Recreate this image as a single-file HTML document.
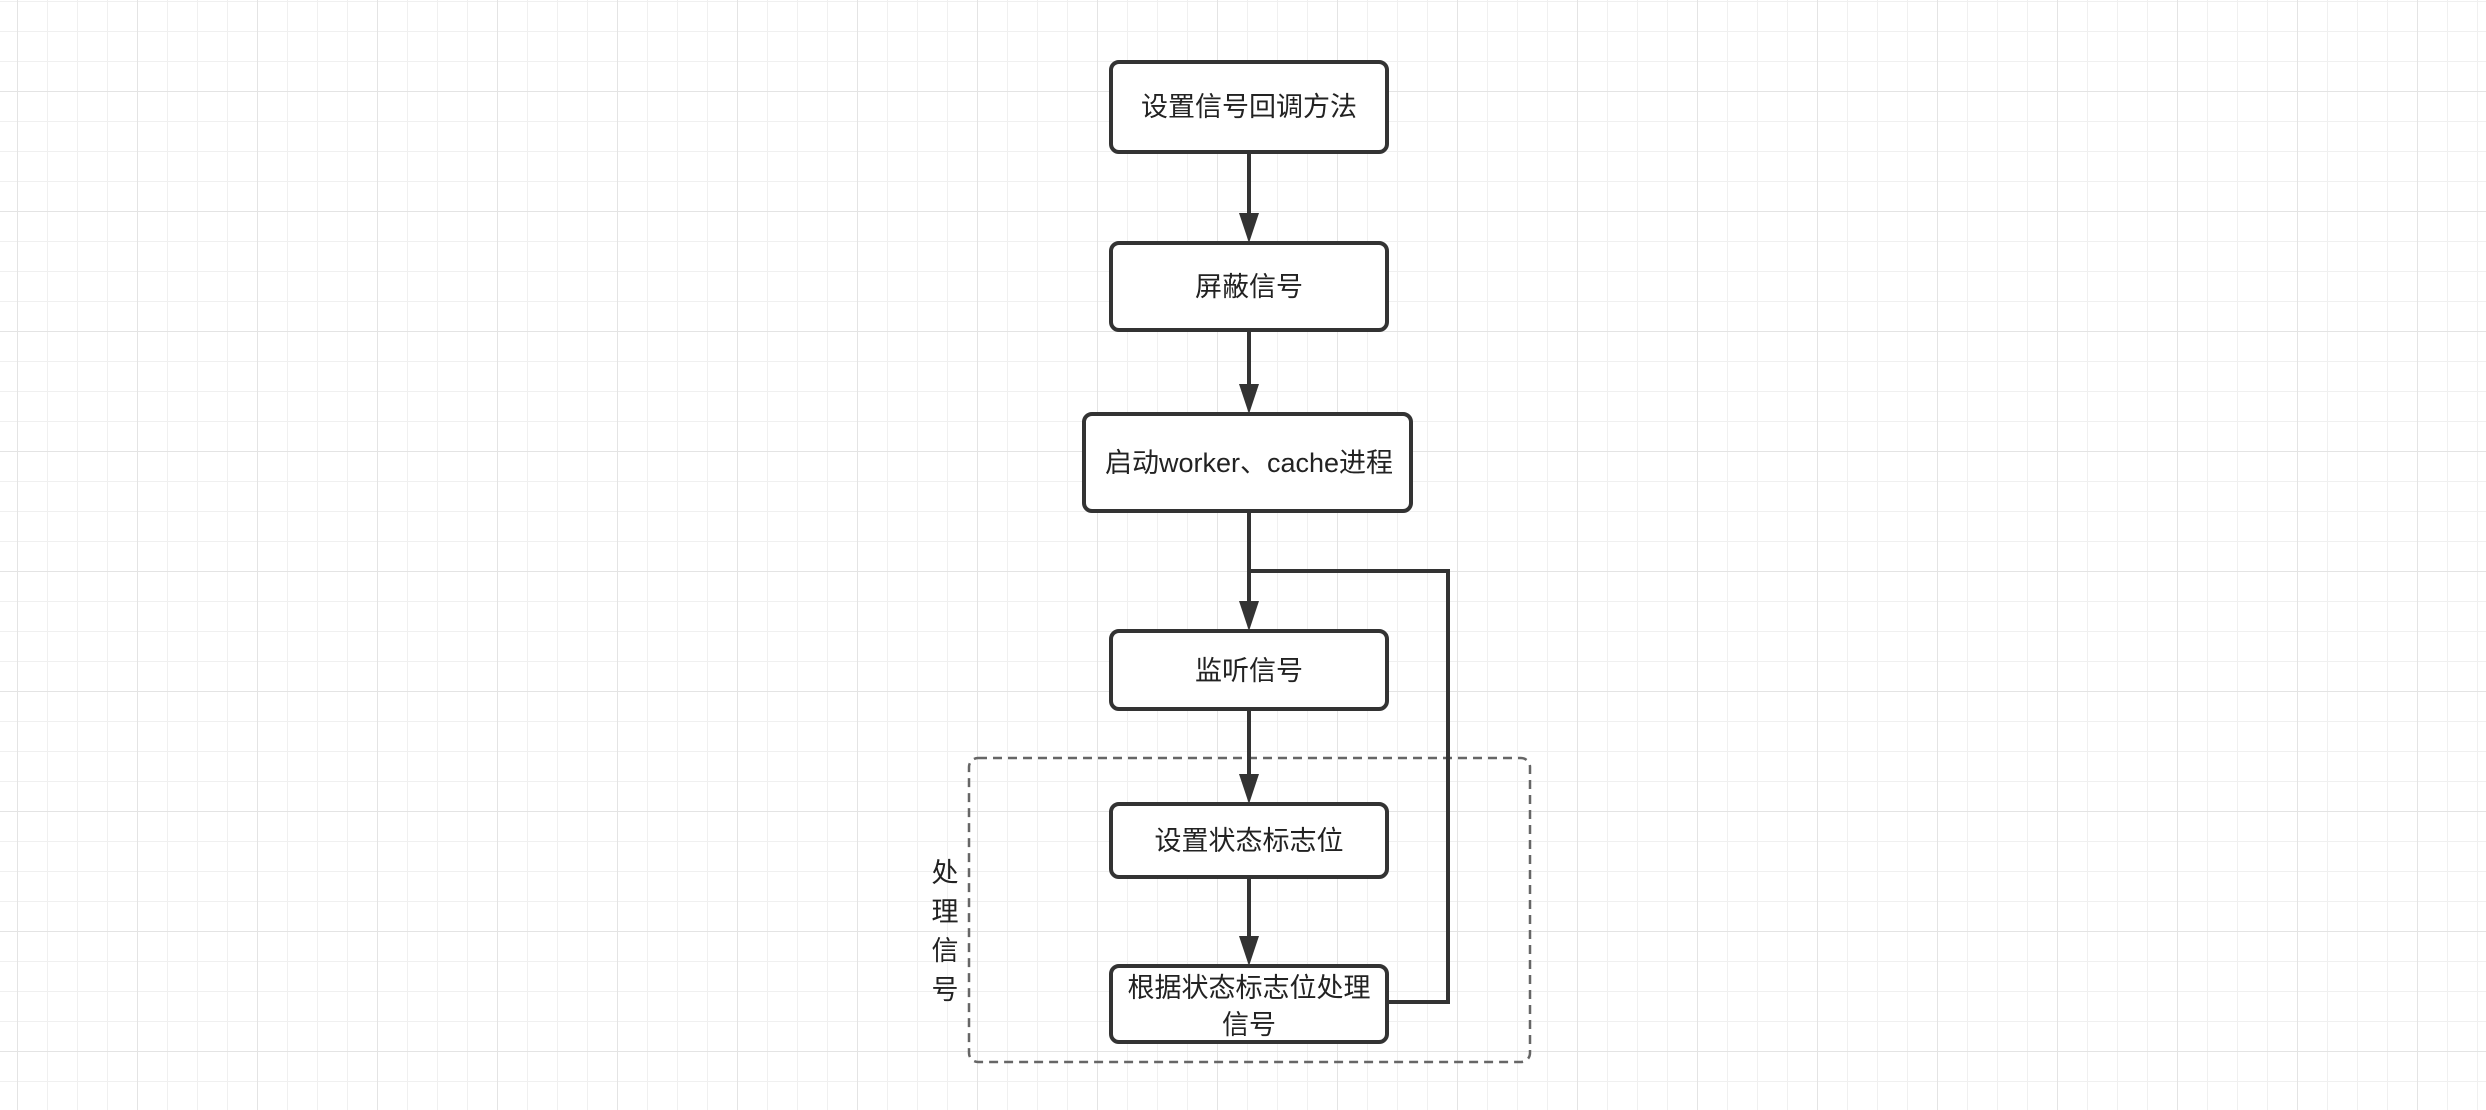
<!DOCTYPE html>
<html><head><meta charset="utf-8"><style>
html,body{margin:0;padding:0;background:#fff;}
svg{display:block;}
text{font-family:"Liberation Sans","Noto Sans CJK SC",sans-serif;font-size:27px;fill:#222;}
</style></head><body>
<svg width="2486" height="1110" viewBox="0 0 2486 1110" xmlns="http://www.w3.org/2000/svg">
<defs>
<pattern id="minor" x="17" y="1" width="30" height="30" patternUnits="userSpaceOnUse">
<path d="M0 0V30M0 0H30" stroke="#f0f0f0" stroke-width="2" fill="none"/>
</pattern>
<pattern id="major" x="17" y="91" width="120" height="120" patternUnits="userSpaceOnUse">
<path d="M0 0V120M0 0H120" stroke="#e4e4e4" stroke-width="2" fill="none"/>
</pattern>
</defs>
<rect width="2486" height="1110" fill="#fff"/>
<rect width="2486" height="1110" fill="url(#minor)"/>
<rect width="2486" height="1110" fill="url(#major)"/>

<rect x="969" y="758" width="561" height="304" rx="9" fill="none" stroke="#666" stroke-width="2.5" stroke-dasharray="9,6"/>

<g stroke="#333" stroke-width="4" fill="none">
<line x1="1249" y1="152" x2="1249" y2="216"/>
<line x1="1249" y1="330" x2="1249" y2="387"/>
<line x1="1249" y1="511" x2="1249" y2="604"/>
<polyline points="1387,1002 1448,1002 1448,571 1249,571"/>
<line x1="1249" y1="709" x2="1249" y2="777"/>
<line x1="1249" y1="877" x2="1249" y2="939"/>
</g>
<g fill="#333">
<polygon points="1239,213 1259,213 1249,243"/>
<polygon points="1239,384 1259,384 1249,414"/>
<polygon points="1239,601 1259,601 1249,631"/>
<polygon points="1239,774 1259,774 1249,804"/>
<polygon points="1239,936 1259,936 1249,966"/>
</g>

<g fill="#fff" stroke="#333" stroke-width="4">
<rect x="1111" y="62" width="276" height="90" rx="8"/>
<rect x="1111" y="243" width="276" height="87" rx="8"/>
<rect x="1084" y="414" width="327" height="97" rx="8"/>
<rect x="1111" y="631" width="276" height="78" rx="8"/>
<rect x="1111" y="804" width="276" height="73" rx="8"/>
<rect x="1111" y="966" width="276" height="76" rx="8"/>
</g>

<g text-anchor="middle">
<text x="1249" y="116">设置信号回调方法</text>
<text x="1249" y="296">屏蔽信号</text>
<text x="1249" y="472">启动worker、cache进程</text>
<text x="1249" y="680">监听信号</text>
<text x="1249" y="850">设置状态标志位</text>
<text x="1249" y="997">根据状态标志位处理</text>
<text x="1249" y="1034">信号</text>
<text x="945" y="882">处</text>
<text x="945" y="921">理</text>
<text x="945" y="960">信</text>
<text x="945" y="999">号</text>
</g>
</svg>
</body></html>
